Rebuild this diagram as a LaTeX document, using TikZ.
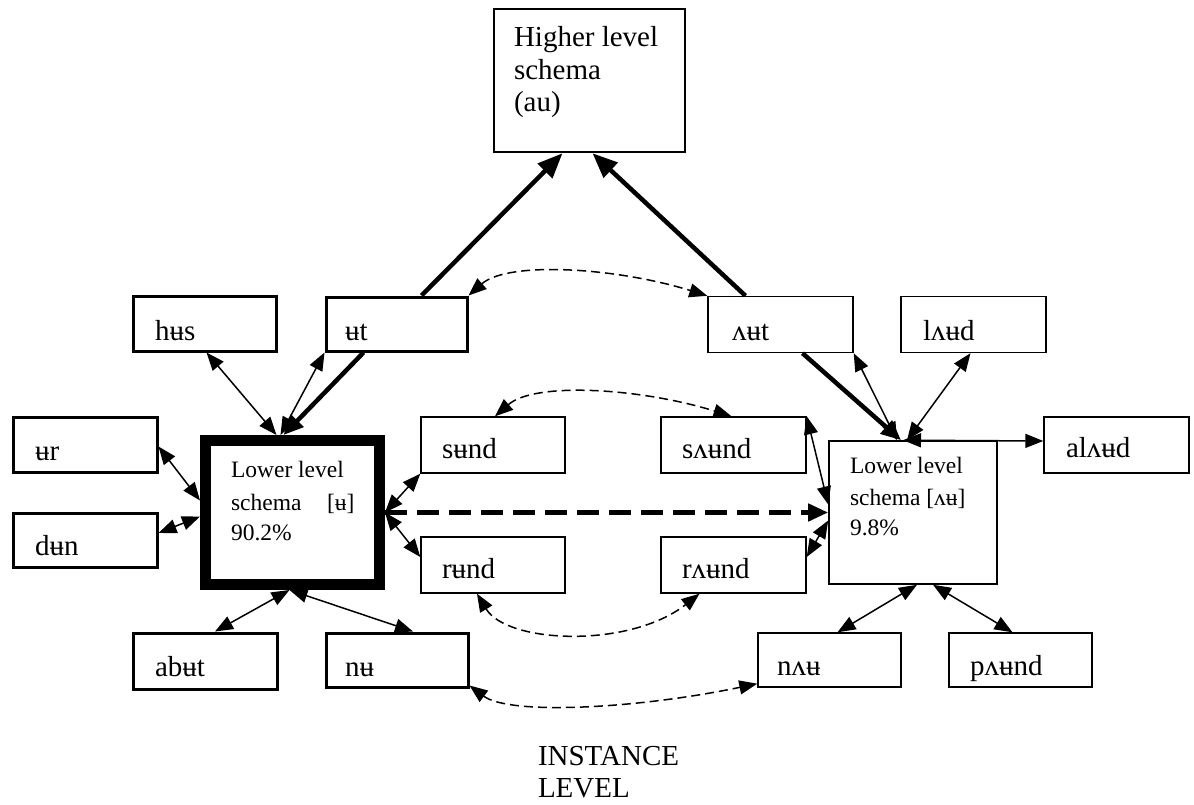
\documentclass[tikz,border=0pt]{standalone}
\usepackage{fontspec}
\setmainfont{Liberation Serif}
\usetikzlibrary{arrows.meta}
\tikzset{
  wordbox/.style={draw,line width=1.4pt,inner sep=0pt,minimum width=145pt,minimum height=56pt},
  boldbox/.style={wordbox,line width=3pt},
  wordtext/.style={inner sep=0pt,outer sep=0pt,anchor=base west,font=\fontsize{29}{34}\selectfont},
  schemtext/.style={wordtext,font=\fontsize{23.5}{28}\selectfont},
  link/.style={{Triangle[length=18pt,width=14pt]}-{Triangle[length=18pt,width=14pt]},line width=1.5pt},
  dashlink/.style={link,dash pattern=on 9pt off 5pt},
  heavy/.style={-{Triangle[length=25pt,width=20pt]},line width=4.5pt},
  bigdash/.style={-{Triangle[length=20pt,width=17pt]},line width=4.5pt,dash pattern=on 22pt off 10pt}
}
\begin{document}
\begin{tikzpicture}[x=1pt,y=-1pt]
\path[use as bounding box,fill=white] (0,0) rectangle (1194,805);
\node[wordbox,line width=2.5pt,minimum width=191pt,minimum height=143pt] (hi) at (589.5,80.5) {};
\node[boldbox,minimum width=143pt,minimum height=55pt] (hus) at (204.5,323.5) {};
\node[boldbox,minimum width=141pt,minimum height=54pt] (ut) at (396.5,324) {};
\node[wordbox] (aut) at (780.5,324.5) {};
\node[wordbox] (laud) at (973.5,324.5) {};
\node[boldbox,minimum width=144pt,minimum height=55pt] (ur) at (85,444.5) {};
\node[boldbox,minimum width=144pt,minimum height=54pt] (dun) at (85,540) {};
\node[wordbox,line width=11pt,minimum width=174pt,minimum height=144pt] (ls) at (292.5,512.5) {};
\node[wordbox,minimum width=144pt] (sund) at (493,445) {};
\node[wordbox,minimum width=144pt] (rund) at (493,565) {};
\node[wordbox] (saund) at (733.5,445) {};
\node[wordbox] (raund) at (733.5,565) {};
\node[wordbox,line width=1.6pt,minimum width=168pt,minimum height=143pt] (rs) at (913,512.5) {};
\node[wordbox] (alaud) at (1116.5,445) {};
\node[boldbox,minimum width=144pt] (abut) at (205,661) {};
\node[boldbox,minimum width=142pt,minimum height=54pt] (nu) at (397,660) {};
\node[wordbox,minimum width=143pt,minimum height=54pt] (nau) at (829.5,660) {};
\node[wordbox,minimum width=143pt,minimum height=54pt] (paund) at (1020.5,660) {};
\node[wordtext] (hi-1) at (514,47) {Higher level};
\node[wordtext] (hi-2) at (514,80) {schema};
\node[wordtext] (hi-3) at (514,112) {(au)};
\node[wordtext] (hus-t) at (155,340) {hʉs};
\node[wordtext] (ut-t) at (345,340) {ʉt};
\node[wordtext] (aut-t) at (732,340) {ʌʉt};
\node[wordtext] (laud-t) at (923,340) {lʌʉd};
\node[wordtext] (ur-t) at (35,460) {ʉr};
\node[wordtext] (dun-t) at (35,555) {dʉn};
\node[wordtext] (sund-t) at (442,458) {sʉnd};
\node[wordtext] (saund-t) at (682,458) {sʌʉnd};
\node[wordtext] (rund-t) at (442,578) {rʉnd};
\node[wordtext] (raund-t) at (682,578) {rʌʉnd};
\node[wordtext] (alaud-t) at (1066,457) {alʌʉd};
\node[wordtext] (abut-t) at (155,676) {abʉt};
\node[wordtext] (nu-t) at (345,676) {nʉ};
\node[wordtext] (nau-t) at (777,675) {nʌʉ};
\node[wordtext] (paund-t) at (970,675) {pʌʉnd};
\node[schemtext] (ls-1) at (231,477) {Lower level};
\node[schemtext] (ls-2) at (231,510) {schema};
\node[schemtext] (ls-3) at (327,510) {[ʉ]};
\node[schemtext] (ls-4) at (231,540) {90.2\%};
\node[schemtext] (rs-1) at (850,473) {Lower level};
\node[schemtext] (rs-2) at (850,505) {schema [ʌʉ]};
\node[schemtext] (rs-3) at (850,535) {9.8\%};
\node[wordtext] (inst-1) at (538,765) {INSTANCE};
\node[wordtext] (inst-2) at (538,797) {LEVEL};
\draw[heavy] ([shift={(25,0)}]ut.north) -- ([shift={(-27,0)}]hi.south);
\draw[heavy] ([shift={(-35,0)}]aut.north) -- ([shift={(3,0)}]hi.south);
\draw[heavy,-{Triangle[length=20pt,width=17pt]}] ([shift={(-33,0)}]ut.south) -- ([shift={(-9,0)}]ls.north);
\draw[heavy,-{Triangle[length=20pt,width=17pt]}] ([shift={(22,0)}]aut.south) -- ([shift={(-12,0)}]rs.north);
\draw[link] ([shift={(2,0)}]hus.south) -- ([shift={(-16,0)}]ls.north);
\draw[link] (ut.south west) -- ([shift={(-12,0)}]ls.north);
\draw[link] ([shift={(0,2)}]ur.east) -- ([shift={(0,-12)}]ls.west);
\draw[link] ([shift={(0,-7)}]dun.east) -- ([shift={(0,4)}]ls.west);
\draw[link] (ls.east) -- (sund.south west);
\draw[link] (ls.east) -- ([shift={(0,-8)}]rund.west);
\draw[bigdash] (ls.east) -- (rs.west);
\draw[link] ([shift={(-3,0)}]ls.south) -- ([shift={(10,0)}]abut.north);
\draw[link] ([shift={(-3,0)}]ls.south) -- ([shift={(16,0)}]nu.north);
\draw[dashlink] (ut.north east) .. controls +(40,-35) and +(-90,-28) .. (aut.north west);
\draw[dashlink] ([shift={(2,0)}]sund.north) .. controls +(40,-35) and +(-90,-28) .. ([shift={(-2,0)}]saund.north);
\draw[dashlink] ([shift={(-16,0)}]rund.south) .. controls +(30,50) and +(-70,55) .. ([shift={(-34,0)}]raund.south);
\draw[dashlink] ([shift={(0,-3)}]nu.south east) .. controls +(40,30) and +(-120,25) .. ([shift={(0,-4)}]nau.south west);
\draw[link] (saund.north east) -- ([shift={(0,-8)}]rs.west);
\draw[link] ([shift={(0,-8)}]raund.east) -- ([shift={(0,8)}]rs.west);
\draw[link] (aut.south east) -- ([shift={(-16,0)}]rs.north);
\draw[link] ([shift={(-3,0)}]laud.south) -- ([shift={(-6,0)}]rs.north);
\draw[link] ([shift={(0,-4)}]alaud.west) -- ([shift={(-10,0)}]rs.north);
\draw[link] ([shift={(4,0)}]rs.south) -- ([shift={(8,0)}]nau.north);
\draw[link] ([shift={(20,0)}]rs.south) -- ([shift={(-8,0)}]paund.north);
\end{tikzpicture}
\end{document}
